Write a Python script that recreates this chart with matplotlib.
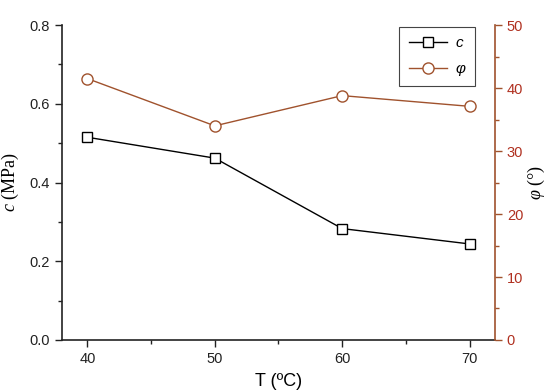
import matplotlib
matplotlib.use("Agg")
import matplotlib.pyplot as plt
from matplotlib.ticker import MultipleLocator

T = [40, 50, 60, 70]
c_vals = [0.515, 0.462, 0.283, 0.244]
phi_vals = [41.5, 34.0, 38.8, 37.1]

plt.rcParams['font.family'] = ['Liberation Sans', 'DejaVu Sans']
plt.rcParams['mathtext.fontset'] = 'custom'
plt.rcParams['mathtext.rm'] = 'Liberation Serif'
plt.rcParams['mathtext.it'] = 'Liberation Serif:italic'
brown = '#A0522D'
red = '#B03020'

fig = plt.figure(figsize=(5.5, 3.92), dpi=100)
ax = fig.add_axes([0.1127, 0.1327, 0.7873, 0.8033])
ax2 = ax.twinx()

l1, = ax.plot(T, c_vals, color='black', lw=1, marker='s', ms=7,
              mfc='white', mec='black', mew=1, label='c')
l2, = ax2.plot(T, phi_vals, color=brown, lw=1, marker='o', ms=8,
               mfc='white', mec=brown, mew=1, label='φ')

ax.set_xlim(38, 72)
ax.set_ylim(0, 0.8)
ax2.set_ylim(0, 50)
ax.set_xticks(T)
ax.xaxis.set_minor_locator(MultipleLocator(5))
ax.set_yticks([0.0, 0.2, 0.4, 0.6, 0.8])
ax.yaxis.set_minor_locator(MultipleLocator(0.1))
ax2.set_yticks([0, 10, 20, 30, 40, 50])
ax2.yaxis.set_minor_locator(MultipleLocator(5))

for a in (ax, ax2):
    a.tick_params(which='major', direction='out', length=5, width=1, labelsize=10.5)
    a.tick_params(which='minor', direction='out', length=3, width=1)
ax.spines['top'].set_visible(False)
ax2.spines['top'].set_visible(False)
for s in ['left', 'bottom']:
    ax.spines[s].set_linewidth(1.2)
    ax.spines[s].set_color('#222222')
ax.spines['right'].set_visible(False)
ax2.spines['left'].set_visible(False)
ax2.spines['bottom'].set_visible(False)
ax2.spines['right'].set_color(brown)
ax2.spines['right'].set_linewidth(1.2)
ax2.tick_params(axis='y', which='both', colors=brown, labelcolor=red)
ax.tick_params(axis='both', which='both', colors='#222222', labelcolor='#222222')

ax.set_xticklabels(['40', '50', '60', '70'])
ax.set_yticklabels(['0.0', '0.2', '0.4', '0.6', '0.8'])

ax.set_xlabel('T (ºC)', fontsize=13, labelpad=5)
ax.set_ylabel(r'$c$ (MPa)', fontsize=13, family='Liberation Serif', labelpad=6)
ax2.set_ylabel(r'$\varphi$ (°)', fontsize=13, family='Liberation Serif', labelpad=2)

leg = ax.legend([l1, l2], ['c', 'φ'], loc='upper right',
                bbox_to_anchor=(0.954, 0.994), borderaxespad=0, fancybox=False,
                edgecolor='#444444', framealpha=1, handlelength=2.5,
                handletextpad=0.6, borderpad=0.6, labelspacing=0.8,
                prop={'size': 11, 'style': 'italic'})
leg.get_frame().set_linewidth(0.8)

fig.savefig('out.png', dpi=100)
